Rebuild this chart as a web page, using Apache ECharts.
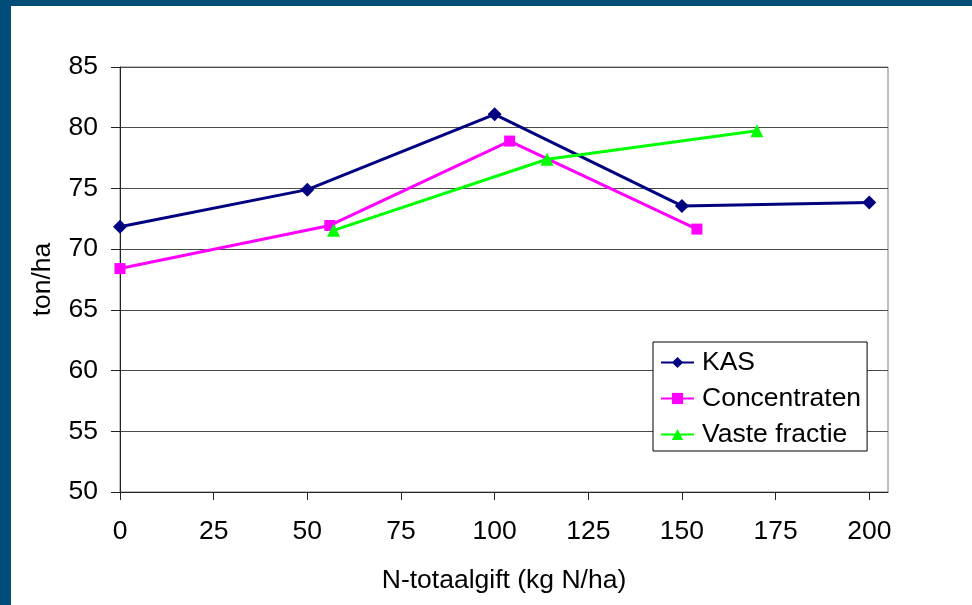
<!DOCTYPE html>
<html>
<head>
<meta charset="utf-8">
<script src="https://cdn.jsdelivr.net/npm/echarts@6/dist/echarts.min.js"></script>
<style>
html,body{margin:0;padding:0;background:#ffffff;}
#frame{position:absolute;left:0;top:0;width:972px;height:605px;background:#ffffff;}
#bt{position:absolute;left:0;top:0;width:972px;height:6px;background:#004D7A;}
#bl{position:absolute;left:0;top:0;width:11px;height:605px;background:#004D7A;}
#chart{position:absolute;left:0;top:0;width:972px;height:605px;}
</style>
</head>
<body>
<div id="frame"></div>
<div id="chart"></div>
<div id="bt"></div>
<div id="bl"></div>
<script>
// ---- data ----
const seriesNames = ['KAS', 'Concentraten', 'Vaste fractie'];
const kasX = [0, 50, 100, 150, 200];
const kasY = [71.85, 74.9, 81.1, 73.56, 73.85];
const concX = [0, 56, 104, 154];
const concY = [68.4, 71.95, 78.9, 71.65];
const vasteX = [57, 114, 170];
const vasteY = [71.55, 77.4, 79.75];
const xTicks = [0, 25, 50, 75, 100, 125, 150, 175, 200];
const yTicks = [50, 55, 60, 65, 70, 75, 80, 85];
const xTitle = 'N-totaalgift (kg N/ha)';
const yTitle = 'ton/ha';

const zip = (xs, ys) => xs.map((x, i) => [x, ys[i]]);
const FONT = 'Liberation Sans, Arial, sans-serif';
const FS = 26.5;

const chart = echarts.init(document.getElementById('chart'), null, {renderer: 'canvas'});
chart.setOption({
  backgroundColor: 'transparent',
  animation: false,
  textStyle: {fontFamily: FONT, color: '#000'},
  grid: {
    left: 120, top: 67, right: 84, bottom: 113,
    show: true, borderColor: '#808080', borderWidth: 1, backgroundColor: '#ffffff'
  },
  legend: {
    orient: 'vertical',
    left: 653, top: 342,
    padding: [7, 6, 3, 7],
    backgroundColor: '#ffffff',
    borderColor: '#000000', borderWidth: 1,
    itemWidth: 33, itemHeight: 14, itemGap: 9,
    textStyle: {fontFamily: FONT, fontSize: FS, color: '#000', lineHeight: 26, padding: [0, 0, 0, 3]},
    data: seriesNames.map(n => ({name: n}))
  },
  xAxis: {
    type: 'value', min: 0, max: 205,
    name: xTitle, nameLocation: 'middle', nameGap: 75,
    nameTextStyle: {fontFamily: FONT, fontSize: FS, color: '#000'},
    axisLine: {show: true, onZero: false, lineStyle: {color: '#222', width: 1}},
    axisTick: {show: true, length: 8, lineStyle: {color: '#222'}, customValues: xTicks},
    axisLabel: {fontFamily: FONT, fontSize: FS, color: '#000', margin: 26, customValues: xTicks},
    splitLine: {show: false}
  },
  yAxis: {
    type: 'value', min: 50, max: 85, interval: 5,
    name: yTitle, nameLocation: 'middle', nameGap: 64,
    nameTextStyle: {fontFamily: FONT, fontSize: FS, color: '#000'},
    axisLine: {show: true, onZero: false, lineStyle: {color: '#222', width: 1}},
    axisTick: {show: true, length: 9, lineStyle: {color: '#222'}, customValues: yTicks},
    axisLabel: {fontFamily: FONT, fontSize: FS, color: '#000', margin: 22, customValues: yTicks},
    splitLine: {show: true, lineStyle: {color: '#4a4a4a', width: 1}}
  },
  series: [
    {name: seriesNames[0], type: 'line', data: zip(kasX, kasY),
     symbol: 'diamond', symbolSize: 14,
     lineStyle: {color: '#000080', width: 3}, itemStyle: {color: '#000080'}},
    {name: seriesNames[1], type: 'line', data: zip(concX, concY),
     symbol: 'rect', symbolSize: 11,
     lineStyle: {color: '#FF00FF', width: 3}, itemStyle: {color: '#FF00FF'}},
    {name: seriesNames[2], type: 'line', data: zip(vasteX, vasteY),
     symbol: 'triangle', symbolSize: 13,
     lineStyle: {color: '#00FF00', width: 3}, itemStyle: {color: '#00FF00'}}
  ]
});
</script>
</body>
</html>
